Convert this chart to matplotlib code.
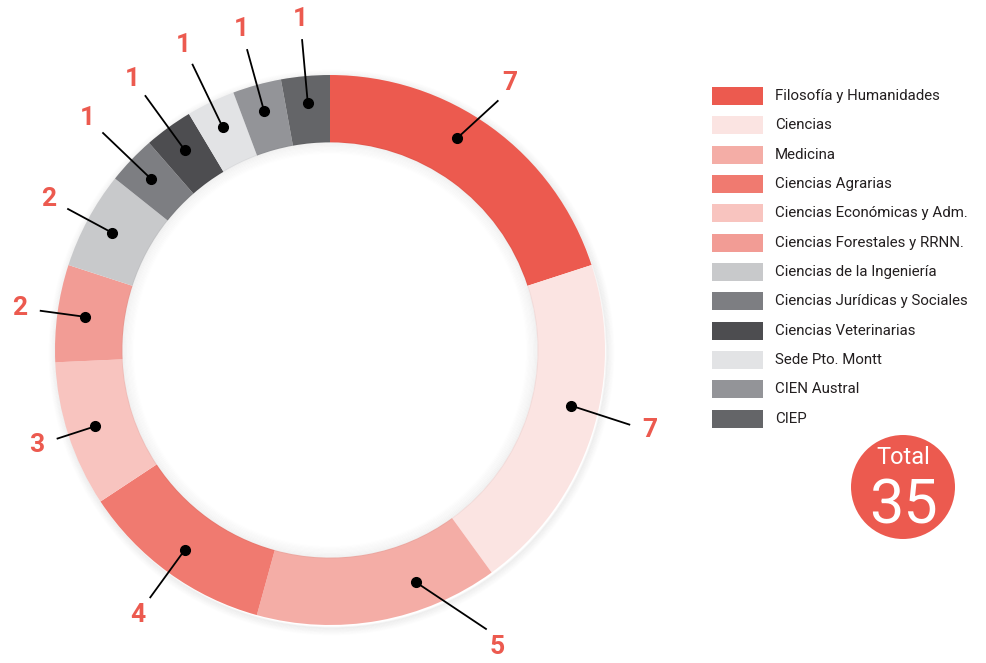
import numpy as np
import matplotlib
matplotlib.use("Agg")
import matplotlib.pyplot as plt
from matplotlib.patches import Rectangle, Circle

plt.rcParams['font.family'] = ['Roboto', 'DejaVu Sans']

categories = [
    "Filosofía y Humanidades", "Ciencias", "Medicina", "Ciencias Agrarias",
    "Ciencias Económicas y Adm.", "Ciencias Forestales y RRNN.",
    "Ciencias de la Ingeniería", "Ciencias Jurídicas y Sociales",
    "Ciencias Veterinarias", "Sede Pto. Montt", "CIEN Austral", "CIEP",
]
values = [7, 7, 5, 4, 3, 2, 2, 1, 1, 1, 1, 1]
colors = [
    "#EC5A4F", "#FBE4E2", "#F4ADA6", "#F07A70", "#F8C4BF", "#F29C95",
    "#C8C9CB", "#7D7E82", "#4D4D50", "#E2E3E5", "#939498", "#646568",
]
total = sum(values)
red = "#EC5A4F"

# layout nudges for each slice label: angle shifts (deg) and label radius (x R)
dot_shift = [5, 5, 10, 0, 0, 0, 0, 0, 0, 0, 0, 0]
lab_shift = [2, 4, 19, 0, 0, 0, 0, 0, 0, 0, 0, 0]
lab_rad = [1.17, 1.20, 1.24, 1.19, 1.12, 1.14, 1.16, 1.22, 1.22, 1.23, 1.21, 1.21]

fig = plt.figure(figsize=(9.87, 6.63), dpi=100)
ax = fig.add_axes([0, 0, 1, 1])

cx, cy, R = 330, 313, 275
width = 0.245 * R

# soft drop shadow around the ring
for i in range(10):
    ax.add_patch(Circle((cx + 1.5, cy - 2.5), R + i * 0.8, facecolor="none",
                        edgecolor="#000000", lw=1.4, alpha=0.03 * (10 - i) / 10))

ax.pie(values, colors=colors, startangle=90, counterclock=False,
       center=(cx, cy), radius=R, frame=True,
       wedgeprops=dict(width=width, linewidth=0))
ax.set_xlim(0, 987)
ax.set_ylim(0, 663)
ax.set_aspect("equal")
ax.axis("off")

# soft inner shadow
for i in range(10):
    ax.add_patch(Circle((cx, cy), R - width - i * 1.2, facecolor="none",
                        edgecolor="#000000", lw=1.4, alpha=0.035 * (10 - i) / 10))

# leader lines and value labels
start = 90.0
for v, ds, ls, lr in zip(values, dot_shift, lab_shift, lab_rad):
    span = 360.0 * v / total
    mid = start - span / 2
    start -= span
    a_dot, a_lab = np.deg2rad(mid + ds), np.deg2rad(mid + ls)
    r_dot, r_end, r_lab = 0.9 * R, (lr - 0.075) * R, lr * R
    x0, y0 = cx + r_dot * np.cos(a_dot), cy + r_dot * np.sin(a_dot)
    x1, y1 = cx + r_end * np.cos(a_lab), cy + r_end * np.sin(a_lab)
    ax.plot([x0, x1], [y0, y1], color="black", lw=1.3, solid_capstyle="butt")
    ax.plot(x0, y0, "o", color="black", ms=7)
    ax.text(cx + r_lab * np.cos(a_lab), cy + r_lab * np.sin(a_lab), str(v),
            color=red, fontsize=19, fontweight="bold", ha="center", va="center")

# legend
for i, (name, c) in enumerate(zip(categories, colors)):
    y = 663 - 96 - i * 29.35
    ax.add_patch(Rectangle((712, y - 9), 51, 18, facecolor=c, edgecolor="none"))
    ax.text(775, y, name, fontsize=10.8, va="center", ha="left", color="#231F20")

# total badge
ax.add_patch(Circle((903, 663 - 487), 52, facecolor=red, edgecolor="none"))
ax.text(903, 663 - 458, "Total", color="white", fontsize=17, ha="center", va="center")
ax.text(903, 663 - 507, str(total), color="white", fontsize=44, ha="center", va="center")

fig.savefig("out.png", dpi=100)
